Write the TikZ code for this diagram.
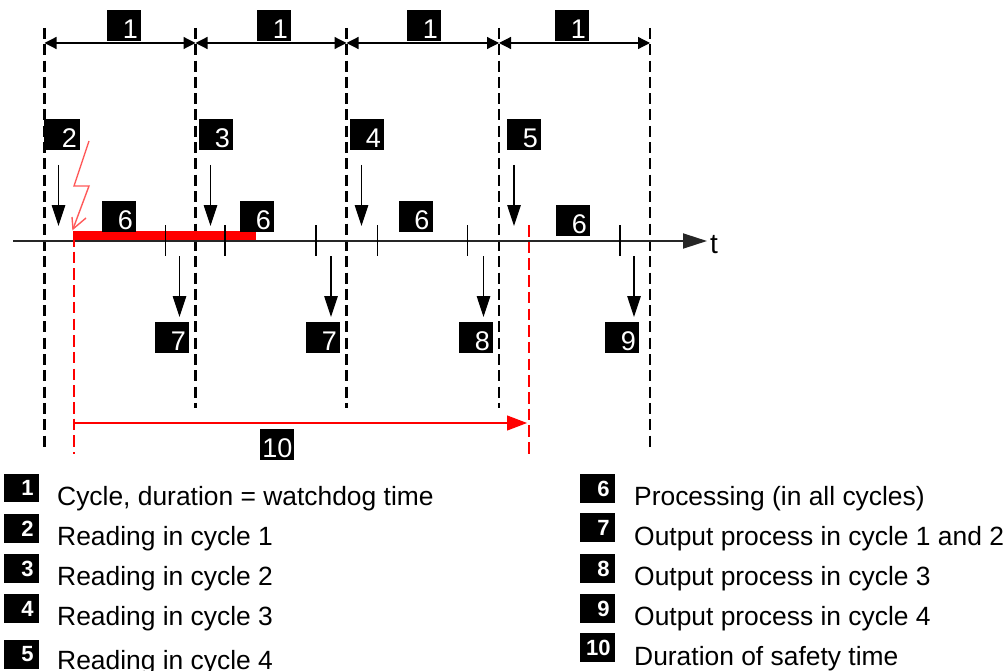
\documentclass[tikz,border=0pt]{standalone}
\usepackage{fontspec}
\setmainfont{Liberation Sans}
\usetikzlibrary{arrows.meta}
\definecolor{redd}{RGB}{255,0,0}
\tikzset{
  x=1pt,y=-1pt,
  badge/.style={fill=black,text=white,inner sep=0pt,outer sep=0pt,minimum width=34pt,minimum height=31pt,font=\fontsize{27}{27}\selectfont,text width=28pt,align=right,text height=26pt,text depth=0pt},
  lbadge/.style={fill=black,text=white,inner sep=0pt,outer sep=0pt,minimum width=35pt,minimum height=29pt,font=\fontsize{22}{22}\selectfont\bfseries,text width=24pt,align=right},
  legend/.style={anchor=base west,inner sep=0pt,font=\fontsize{26.4}{26.4}\selectfont},
  cyc/.style={line width=2.4pt,black,dash pattern=on 11pt off 5.3pt},
  redcyc/.style={line width=2.4pt,redd,dash pattern=on 11.5pt off 5.2pt},
  tick/.style={line width=1.1pt,black},
  dim/.style={line width=1.2pt,black,{Triangle[length=12pt,width=12pt]}-{Triangle[length=12pt,width=12pt]}},
  downarr/.style={line width=1.2pt,black,-{Triangle[length=21pt,width=13.5pt]}},
  bolt/.style={line width=1.4pt,redd!65!white,line join=miter},
}
\begin{document}
\begin{tikzpicture}
\useasboundingbox (0,0) rectangle (1008,671);
% cycle boundaries
\coordinate (c0t) at (44.5,28); \coordinate (c0b) at (44.5,447);
\coordinate (c1t) at (195.5,28); \coordinate (c1b) at (195.5,408);
\coordinate (c2t) at (346.5,28); \coordinate (c2b) at (346.5,408);
\coordinate (c3t) at (499,28); \coordinate (c3b) at (499,408);
\coordinate (c4t) at (650,28); \coordinate (c4b) at (650,447);
\foreach \n in {0,1,2,3,4} \draw[cyc] (c\n t) -- (c\n b);
% dimension arrows
\coordinate (d0) at (44.5,43); \coordinate (d1) at (195.5,43); \coordinate (d2) at (346.5,43); \coordinate (d3) at (499,43); \coordinate (d4) at (650,43);
\draw[dim] (d0) -- (d1);
\draw[dim] (d1) -- (d2);
\draw[dim] (d2) -- (d3);
\draw[dim] (d3) -- (d4);
% axis
\coordinate (a0) at (13,241); \coordinate (a1) at (707,241);
\draw[line width=1.9pt,black!85,-{Triangle[length=24pt,width=15pt]}] (a0) -- (a1);
\node[inner sep=0pt,font=\fontsize{28}{28}\selectfont] (t) at (714,245) {t};
% red bar
\fill[redd] (73,231) rectangle (256,240);
% ticks
\foreach \x in {165.5,225,316,377.5,467.5,620} \draw[tick] (\x,225) -- (\x,256);
% red dashed
\draw[redcyc] (74,235) -- (74,454);
\draw[redcyc] (529,225) -- (529,454);
% safety arrow
\coordinate (s0) at (74,423); \coordinate (s1) at (527,423);
\draw[line width=1.1pt,redd,-{Triangle[length=20pt,width=15pt]}] (s0) -- (s1);
% lightning
\draw[bolt] (89,141) -- (74,186) -- (89,186) -- (73,229);
\draw[bolt] (72,217) -- (73,229) -- (86,218);
% read arrows
\foreach \x in {58.5,210.5,361.5,514} \draw[downarr] (\x,165) -- (\x,226);
\foreach \x in {179.5,331,483.5,634} \draw[downarr] (\x,256) -- (\x,317);
% badges
\node[badge] (b1a) at (124,25.5) {1};
\node[badge] (b1b) at (274,25.5) {1};
\node[badge] (b1c) at (424,25.5) {1};
\node[badge] (b1d) at (572,25.5) {1};
\node[badge,minimum width=36pt,text width=30pt] (b2) at (62,135) {2};
\node[badge] (b3) at (216,135) {3};
\node[badge] (b4) at (367,135) {4};
\node[badge] (b5) at (524,135) {5};
\node[badge] (b6a) at (119,216) {6};
\node[badge] (b6b) at (257,216) {6};
\node[badge] (b6c) at (415.5,216) {6};
\node[badge] (b6d) at (573,220) {6};
\node[badge] (b7a) at (172,337) {7};
\node[badge] (b7b) at (323,337) {7};
\node[badge] (b8) at (476,337) {8};
\node[badge] (b9) at (622,337) {9};
\node[badge,text width=31pt] (b10) at (277,444) {10};
% legend
\node[lbadge,minimum height=28pt] (l1) at (21.5,488) {1};
\node[lbadge] (l2) at (21.5,528.5) {2};
\node[lbadge] (l3) at (21.5,568.5) {3};
\node[lbadge] (l4) at (21.5,608.5) {4};
\node[lbadge] (l5) at (21.5,654.5) {5};
\node[lbadge] (l6) at (597.5,488.5) {6};
\node[lbadge] (l7) at (597.5,527.5) {7};
\node[lbadge] (l8) at (597.5,568.5) {8};
\node[lbadge] (l9) at (597.5,608.5) {9};
\node[lbadge,text width=26pt] (l10) at (597.5,647.5) {10};
\node[legend] (t1) at (57,505) {Cycle, duration = watchdog time};
\node[legend] (t2) at (57,545) {Reading in cycle 1};
\node[legend] (t3) at (57,585) {Reading in cycle 2};
\node[legend] (t4) at (57,625) {Reading in cycle 3};
\node[legend] (t5) at (57,669) {Reading in cycle 4};
\node[legend] (t6) at (634,505) {Processing (in all cycles)};
\node[legend] (t7) at (634,545) {Output process in cycle 1 and 2};
\node[legend] (t8) at (634,585) {Output process in cycle 3};
\node[legend] (t9) at (634,625) {Output process in cycle 4};
\node[legend] (t10) at (634,665) {Duration of safety time};
\end{tikzpicture}
\end{document}
